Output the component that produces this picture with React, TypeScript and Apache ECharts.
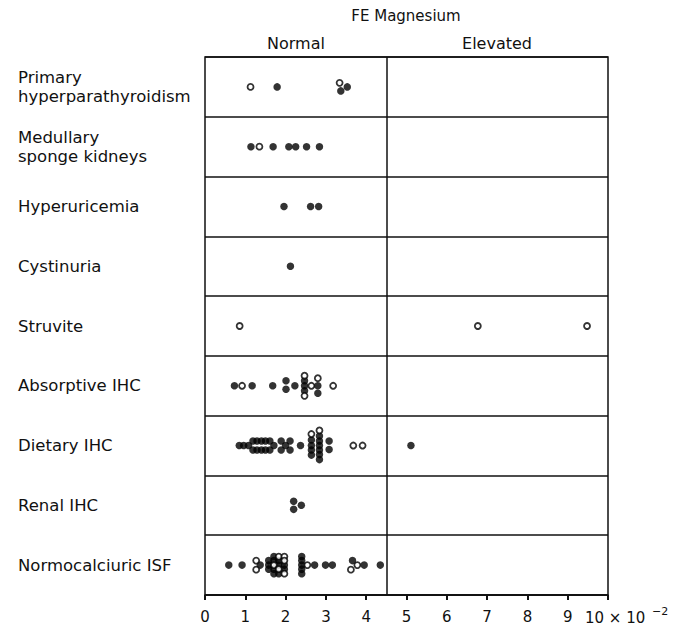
import React, { useEffect, useRef } from "react";
import * as echarts from "echarts";

// Row labels (top to bottom)
const categories = [
  "Primary\nhyperparathyroidism",
  "Medullary\nsponge kidneys",
  "Hyperuricemia",
  "Cystinuria",
  "Struvite",
  "Absorptive IHC",
  "Dietary IHC",
  "Renal IHC",
  "Normocalciuric ISF",
];

const xTicks = [0, 1, 2, 3, 4, 5, 6, 7, 8, 9, 10];
const normalLimit = 4.5;

// Each point: [FE Mg value (x10^-2), vertical stacking level within the row]
const hyperparaFilled = [[1.79, 0], [3.37, 0.8], [3.53, 0]];
const hyperparaOpen = [[1.13, 0], [3.34, -0.8]];

const medullaryFilled = [[1.14, 0], [1.69, 0], [2.08, 0], [2.25, 0], [2.52, 0], [2.84, 0]];
const medullaryOpen = [[1.35, 0]];

const hyperuricFilled = [[1.96, 0], [2.62, 0], [2.82, 0]];
const hyperuricOpen: number[][] = [];

const cystinuriaFilled = [[2.12, 0]];
const cystinuriaOpen: number[][] = [];

const struviteFilled: number[][] = [];
const struviteOpen = [[0.86, 0], [6.77, 0], [9.48, 0]];

const absorptiveFilled = [
  [0.73, 0], [1.17, 0], [1.68, 0], [2.01, -1], [2.01, 0.7], [2.23, 0],
  [2.47, -1], [2.47, 0], [2.47, 1], [2.8, 0], [2.8, 1.5],
];
const absorptiveOpen = [[0.92, 0], [2.47, -2], [2.47, 2], [2.64, 0], [2.8, -1.5], [3.18, 0]];

const dietaryFilled = [
  [0.85, 0], [0.96, 0], [1.08, 0],
  [1.19, -0.9], [1.29, -0.9], [1.4, -0.9], [1.5, -0.9], [1.61, -0.9],
  [1.19, 0.9], [1.29, 0.9], [1.4, 0.9], [1.5, 0.9], [1.61, 0.9],
  [1.71, 0], [1.89, -0.9], [1.89, 0.9], [2.0, 0], [2.11, -0.9], [2.11, 0.9],
  [2.37, 0],
  [2.64, -1.1], [2.64, 0], [2.64, 0.9], [2.64, 1.9],
  [2.84, -1.9], [2.84, -0.9], [2.84, 0], [2.84, 0.9], [2.84, 1.8], [2.84, 2.8],
  [3.08, -0.9], [3.08, 0.8],
  [5.11, 0],
];
const dietaryOpen = [[2.64, -2.3], [2.84, -3], [3.68, 0], [3.91, 0]];

const renalFilled = [[2.2, -0.8], [2.2, 0.8], [2.39, 0]];
const renalOpen: number[][] = [];

const normoFilled = [
  [0.59, 0], [0.92, 0], [1.37, 0],
  [1.58, -0.9], [1.58, 0], [1.58, 0.8],
  [1.71, -1.7], [1.71, -0.9], [1.71, 0.8], [1.71, 1.7],
  [1.83, -0.9], [1.83, 0], [1.83, 1.7],
  [1.97, 0], [1.97, 0.8],
  [2.4, -1.7], [2.4, -0.9], [2.4, 0], [2.4, 0.8], [2.4, 1.7],
  [2.72, 0], [2.99, 0], [3.16, 0],
  [3.66, -0.9], [3.95, 0], [4.35, 0],
];
const normoOpen = [
  [1.27, -0.9], [1.27, 0.9],
  [1.71, 0], [1.83, -1.7], [1.83, 0.8], [1.97, -1.7], [1.97, -0.9], [1.97, 1.7],
  [2.54, 0], [3.62, 0.9], [3.78, 0],
];

const filledByRow = [
  hyperparaFilled, medullaryFilled, hyperuricFilled, cystinuriaFilled, struviteFilled,
  absorptiveFilled, dietaryFilled, renalFilled, normoFilled,
];
const openByRow = [
  hyperparaOpen, medullaryOpen, hyperuricOpen, cystinuriaOpen, struviteOpen,
  absorptiveOpen, dietaryOpen, renalOpen, normoOpen,
];

const LEVEL_STEP = 0.084; // one dot-height in row units

function toPoints(byRow: number[][][]) {
  const out: number[][] = [];
  byRow.forEach((row, i) => {
    row.forEach(([v, lvl]) => out.push([v, i + 0.5 + lvl * LEVEL_STEP]));
  });
  return out;
}

const FONT = "DejaVu Sans";
const INK = "#111111";

export default function App() {
  const ref = useRef<HTMLDivElement>(null);
  useEffect(() => {
    if (!ref.current) return;
    const chart = echarts.init(ref.current, null, { renderer: "svg" });
    chart.setOption({
      animation: false,
      backgroundColor: "#ffffff",
      grid: {
        left: 205,
        right: 78,
        top: 57,
        bottom: 36,
        show: true,
        borderColor: INK,
        borderWidth: 1.5,
        backgroundColor: "transparent",
      },
      xAxis: {
        type: "value",
        position: "bottom",
        min: xTicks[0],
        max: xTicks[xTicks.length - 1],
        interval: 1,
        axisLine: { show: true, onZero: false, lineStyle: { color: INK, width: 1.5 } },
        axisTick: { show: true, length: 5, lineStyle: { color: INK, width: 2 } },
        axisLabel: {
          formatter: (v: number) => (v === 10 ? "" : String(v)),
          fontFamily: FONT,
          fontSize: 15,
          color: INK,
          margin: 14,
        },
        splitLine: { show: false },
      },
      yAxis: [
        {
          type: "value",
          min: 0,
          max: categories.length,
          interval: 1,
          inverse: true,
          axisLine: { show: false },
          axisTick: { show: false },
          axisLabel: { show: false },
          splitLine: { show: true, lineStyle: { color: INK, width: 1.5 } },
        },
        {
          type: "category",
          data: categories,
          inverse: true,
          position: "left",
          axisLine: { show: false },
          axisTick: { show: false },
          splitLine: { show: false },
          axisLabel: {
            align: "left",
            margin: 187,
            fontFamily: FONT,
            fontSize: 16.5,
            lineHeight: 19,
            color: INK,
          },
        },
      ],
      series: [
        {
          type: "scatter",
          name: "filled",
          yAxisIndex: 0,
          data: toPoints(filledByRow),
          symbol: "circle",
          symbolSize: 7.5,
          itemStyle: { color: "#000000" },
          markLine: {
            silent: true,
            symbol: "none",
            label: { show: false },
            lineStyle: { color: INK, type: "solid", width: 1.5 },
            data: [{ xAxis: normalLimit }],
          },
        },
        {
          type: "scatter",
          name: "open",
          yAxisIndex: 0,
          data: toPoints(openByRow),
          symbol: "circle",
          symbolSize: 6,
          itemStyle: { color: "#ffffff", borderColor: "#000000", borderWidth: 1.8 },
        },
      ],
      graphic: [
        {
          type: "text",
          x: 406,
          y: 16,
          style: { text: "FE Magnesium", fontFamily: FONT, fontSize: 15, fill: INK, align: "center", verticalAlign: "middle" },
        },
        {
          type: "text",
          x: 296,
          y: 43,
          style: { text: "Normal", fontFamily: FONT, fontSize: 16, fill: INK, align: "center", verticalAlign: "middle" },
        },
        {
          type: "text",
          x: 497,
          y: 43,
          style: { text: "Elevated", fontFamily: FONT, fontSize: 16, fill: INK, align: "center", verticalAlign: "middle" },
        },
        {
          type: "text",
          x: 585,
          y: 618,
          style: { text: "10 × 10", fontFamily: FONT, fontSize: 15, fill: INK, align: "left", verticalAlign: "middle" },
        },
        {
          type: "text",
          x: 652,
          y: 611,
          style: { text: "−2", fontFamily: FONT, fontSize: 11, fill: INK, align: "left", verticalAlign: "middle" },
        },
      ],
    });
    return () => chart.dispose();
  }, []);
  return (
    <div
      ref={ref}
      style={{ position: "fixed", left: 0, top: 0, width: 686, height: 631, background: "#fff" }}
    />
  );
}
